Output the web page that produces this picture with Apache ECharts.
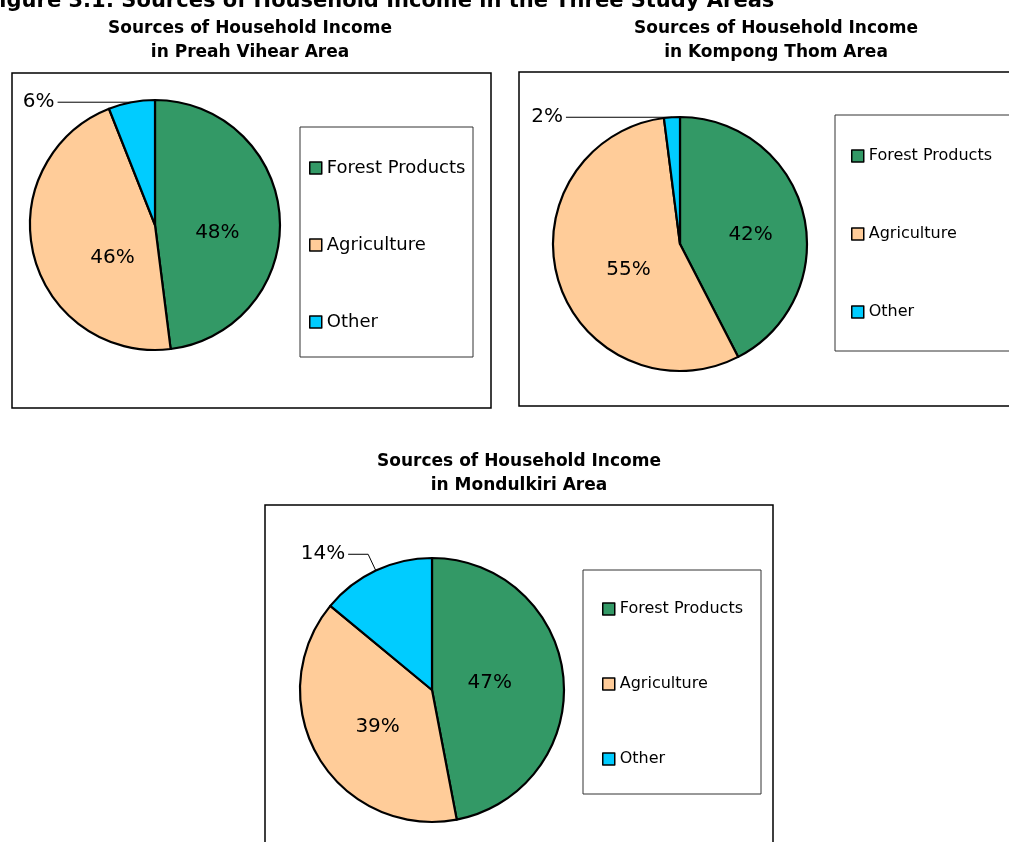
<!DOCTYPE html>
<html><head><meta charset="utf-8">
<script src="https://cdn.jsdelivr.net/npm/echarts@6/dist/echarts.min.js"></script>
<style>html,body{margin:0;padding:0;background:#fff;overflow:hidden}#c{width:1009px;height:842px}</style>
</head><body><div id="c"></div>
<script>
const categories = ['Forest Products', 'Agriculture', 'Other'];
const preahVihear = [48, 46, 6];
const kompongThom = [42, 55, 2];
const mondulkiri = [47, 39, 14];
const sliceColors = ['#339966', '#FFCC99', '#00CCFF'];
const figureTitle = 'Figure 3.1: Sources of Household Income in the Three Study Areas';
const chartTitles = [
  'Sources of Household Income\nin Preah Vihear Area',
  'Sources of Household Income\nin Kompong Thom Area',
  'Sources of Household Income\nin Mondulkiri Area'
];

const FONT = 'DejaVu Sans';

function makeSeries(vals, center, radius, len1, len2, nudges) {
  return {
    type: 'pie',
    center: center,
    radius: radius,
    startAngle: 90,
    clockwise: true,
    avoidLabelOverlap: false,
    silent: true,
    itemStyle: { borderColor: '#000', borderWidth: 2.2 },
    label: { show: true, position: 'inside', formatter: '{c}%', color: '#000', fontFamily: FONT, fontSize: 20 },
    labelLine: { show: false },
    labelLayout: function (p) {
      const n = nudges[p.dataIndex];
      return n ? { dx: n[0], dy: n[1] } : {};
    },
    data: categories.map((n, i) => {
      const d = { name: n, value: vals[i], itemStyle: { color: sliceColors[i] } };
      if (i === 2) {
        d.label = { position: 'outside', distanceToLabelLine: 3 };
        d.labelLine = { show: true, length: len1, length2: len2, lineStyle: { color: '#000', width: 1 } };
      }
      return d;
    })
  };
}

function makeLegend(left, top, gap, fontSize) {
  return {
    orient: 'vertical', left: left, top: top, padding: 0,
    itemWidth: 12, itemHeight: 12, itemGap: gap,
    data: categories,
    selectedMode: false,
    icon: 'rect',
    itemStyle: { borderColor: '#000', borderWidth: 1.5 },
    textStyle: { fontFamily: FONT, fontSize: fontSize, color: '#000', lineHeight: 20 }
  };
}

function makeTitle(text, cx, top) {
  return {
    text: text, left: cx, top: top, textAlign: 'center', padding: 0,
    textStyle: { fontFamily: FONT, fontSize: 17, fontWeight: 'bold', color: '#000', lineHeight: 24 }
  };
}

const chart = echarts.init(document.getElementById('c'), null, { renderer: 'canvas' });
chart.setOption({
  animation: false,
  backgroundColor: '#fff',
  title: [
    { text: figureTitle, left: -15, top: -10, padding: 0,
      textStyle: { fontFamily: FONT, fontSize: 21, fontWeight: 'bold', color: '#000', lineHeight: 24 } },
    makeTitle(chartTitles[0], 250, 17),
    makeTitle(chartTitles[1], 776, 17),
    makeTitle(chartTitles[2], 519, 450)
  ],
  legend: [
    makeLegend(309, 158, 57, 18),
    makeLegend(851, 146, 58, 16),
    makeLegend(602, 599, 55, 16)
  ],
  graphic: [
    { type: 'rect', shape: { x: 12, y: 73, width: 479, height: 335 }, style: { fill: null, stroke: '#000', lineWidth: 1.5 }, silent: true, z: -1 },
    { type: 'rect', shape: { x: 519, y: 72, width: 500, height: 334 }, style: { fill: null, stroke: '#000', lineWidth: 1.5 }, silent: true, z: -1 },
    { type: 'rect', shape: { x: 265, y: 505, width: 508, height: 345 }, style: { fill: null, stroke: '#000', lineWidth: 1.5 }, silent: true, z: -1 },
    { type: 'rect', shape: { x: 300, y: 127, width: 173, height: 230 }, style: { fill: null, stroke: '#333', lineWidth: 1 }, silent: true, z: -1 },
    { type: 'rect', shape: { x: 835, y: 115, width: 180, height: 236 }, style: { fill: null, stroke: '#333', lineWidth: 1 }, silent: true, z: -1 },
    { type: 'rect', shape: { x: 583, y: 570, width: 178, height: 224 }, style: { fill: null, stroke: '#333', lineWidth: 1 }, silent: true, z: -1 }
  ],
  series: [
    makeSeries(preahVihear, [155, 225], 125, 0, 74, [[-3, 12], [21, 17]]),
    makeSeries(kompongThom, [680, 244], 127, 0, 106, [[6, 6], [12, 6]]),
    makeSeries(mondulkiri, [432, 690], 132, 18, 20, [[-11, -1], [5, 2]])
  ]
});
</script>
</body></html>
